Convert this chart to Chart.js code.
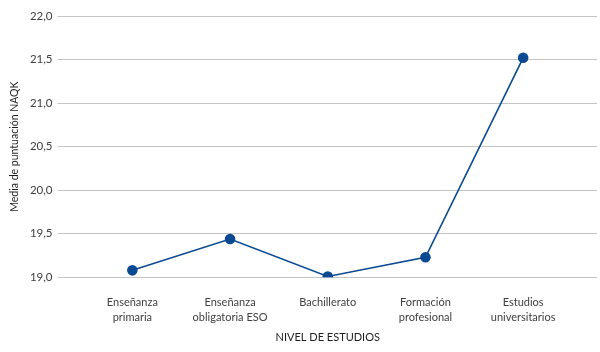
<!DOCTYPE html>
<html>
<head>
<meta charset="utf-8">
<script src="https://cdn.jsdelivr.net/npm/chart.js@4"></script>
<style>
  html, body { margin: 0; padding: 0; background: #ffffff; }
  #wrap { width: 600px; height: 352px; }
</style>
</head>
<body>
<div id="wrap"><canvas id="chart"></canvas></div>
<script>
// Media de puntuación NAQK según nivel de estudios

const categories = [
  ['Enseñanza', 'primaria'],
  ['Enseñanza', 'obligatoria ESO'],
  ['Bachillerato'],
  ['Formación', 'profesional'],
  ['Estudios', 'universitarios'],
];
const mediaNaqk = [19.08, 19.44, 19.01, 19.23, 21.52];

const yMin = 19, yMax = 22, yStep = 0.5;

const FONT       = 'Lato, sans-serif';
const textColor  = '#404040';
const titleColor = '#1e1e1e';
const gridColor  = '#c4c4c4';
const lineColor  = '#0b4a92';

const fmt = v => v.toFixed(1).replace('.', ',');

new Chart(document.getElementById('chart'), {
  type: 'line',
  data: {
    labels: categories,
    datasets: [{
      data:             mediaNaqk,
      borderColor:      lineColor,
      backgroundColor:  lineColor,
      borderWidth:      1.6,
      pointRadius:      4.5,
      pointHoverRadius: 4.5,
      tension:          0,
    }],
  },
  options: {
    responsive:          true,
    maintainAspectRatio: false,
    animation:           false,
    layout: { padding: { left: 3, right: 3, top: 16, bottom: 7 } },
    plugins: {
      legend:  { display: false },
      tooltip: { enabled: false },
    },
    scales: {
      x: {
        offset: true,
        grid:   { display: false },
        border: { display: false },
        ticks: {
          font:        { family: FONT, size: 11, lineHeight: 1.364 },
          color:       textColor,
          padding:     10,
          maxRotation: 0,
          autoSkip:    false,
        },
        title: {
          display: true,
          text:    'NIVEL DE ESTUDIOS',
          font:    { family: FONT, size: 11 },
          color:   titleColor,
          padding: { top: 3, bottom: 1 },
        },
        afterFit: scale => { scale.height = 67.7; },
      },
      y: {
        min: yMin,
        max: yMax,
        grid:   { color: gridColor, lineWidth: 1, tickLength: 26, tickColor: gridColor },
        border: { display: false },
        ticks: {
          stepSize: yStep,
          font:     { family: FONT, size: 11.5 },
          color:    textColor,
          padding:  5,
          callback: v => fmt(v),
        },
        title: {
          display: true,
          text:    'Media de puntuación NAQK',
          font:    { family: FONT, size: 10.5 },
          color:   titleColor,
          padding: { top: 5, bottom: 4 },
        },
        afterFit: scale => { scale.width = 80.5; },
      },
      // eje derecho solo para prolongar las líneas de rejilla
      y2: {
        position: 'right',
        min: yMin,
        max: yMax,
        grid:   { drawOnChartArea: false, tickLength: 25, color: gridColor, tickColor: gridColor },
        border: { display: false },
        ticks:  { display: false, stepSize: yStep },
        afterFit: scale => { scale.width = 25; },
      },
    },
  },
});
</script>
</body>
</html>
